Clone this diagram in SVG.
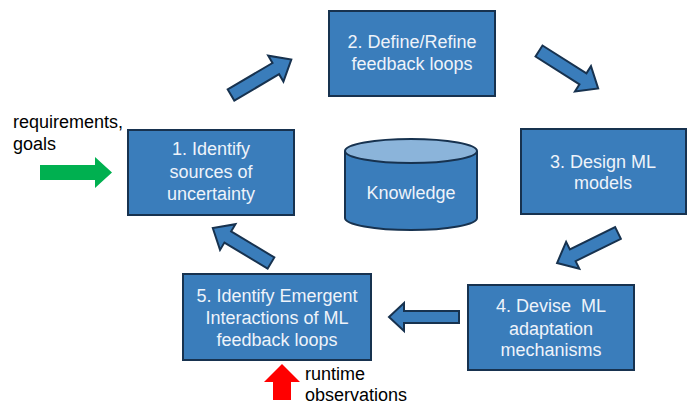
<svg xmlns="http://www.w3.org/2000/svg" width="694" height="406" viewBox="0 0 694 406">
<style>
.box{fill:#3a7dbb;stroke:#17324f;stroke-width:2}
.arr{fill:#3a7dbb;stroke:#17324f;stroke-width:2;stroke-linejoin:miter}
.bt{font-family:"Liberation Sans",Arial,sans-serif;font-size:18px;fill:#eef3fa;text-anchor:middle}
.lt{font-family:"Liberation Sans",Arial,sans-serif;font-size:18px;fill:#000}
</style>
<defs>
<polygon id="blk" points="0,-6.5 52,-6.5 52,-15 70,0 52,15 52,6.5 0,6.5"/>
</defs>
<rect width="694" height="406" fill="#fff"/>
<g id="connectors">
<use href="#blk" class="arr" transform="translate(231,95) rotate(-30.5) scale(1.0,1)"/>
<use href="#blk" class="arr" transform="translate(539,51) rotate(32.3)"/>
<use href="#blk" class="arr" transform="translate(618,233) rotate(153.8) scale(0.97,1)"/>
<use href="#blk" class="arr" transform="translate(271,263) rotate(211) scale(0.97,1)"/>
<polygon class="arr" points="459,311 404,311 404,303 389,317 404,331 404,323 459,323"/>
<polygon fill="#00b050" points="40,165 95,165 95,157 112,172.5 95,188 95,180 40,180"/>
<polygon fill="#ff0000" points="273,400 273,382 264,382 282,364 300,382 291,382 291,400"/>
</g>
<g id="n1">
<rect class="box" x="128" y="130" width="166" height="85"/>
<text class="bt" x="211" y="155">1. Identify</text>
<text class="bt" x="211" y="178">sources of</text>
<text class="bt" x="211" y="200">uncertainty</text>
</g>
<g id="n2">
<rect class="box" x="329" y="11" width="166" height="85"/>
<text class="bt" x="412" y="48">2. Define/Refine</text>
<text class="bt" x="412" y="70">feedback loops</text>
</g>
<g id="n3">
<rect class="box" x="521" y="129" width="165" height="85"/>
<text class="bt" x="603" y="168">3. Design ML</text>
<text class="bt" x="603" y="189">models</text>
</g>
<g id="n4">
<rect class="box" x="468" y="285" width="166" height="85"/>
<text class="bt" x="551" y="312" xml:space="preserve">4. Devise  ML</text>
<text class="bt" x="551" y="335">adaptation</text>
<text class="bt" x="551" y="356">mechanisms</text>
</g>
<g id="n5">
<rect class="box" x="183" y="274" width="188" height="86"/>
<text class="bt" x="277" y="302">5. Identify Emergent</text>
<text class="bt" x="277" y="324">Interactions of ML</text>
<text class="bt" x="277" y="346">feedback loops</text>
</g>
<g id="knowledge">
<path class="box" d="M345,151 V218 A66,12 0 0 0 477,218 V151"/>
<ellipse cx="411" cy="151" rx="66" ry="12" fill="#8bb4da" stroke="#17324f" stroke-width="2"/>
<text class="bt" x="411" y="199">Knowledge</text>
</g>
<g id="labels">
<text class="lt" x="13" y="128">requirements,</text>
<text class="lt" x="13" y="150">goals</text>
<text class="lt" x="305" y="380">runtime</text>
<text class="lt" x="305" y="401">observations</text>
</g>
</svg>
